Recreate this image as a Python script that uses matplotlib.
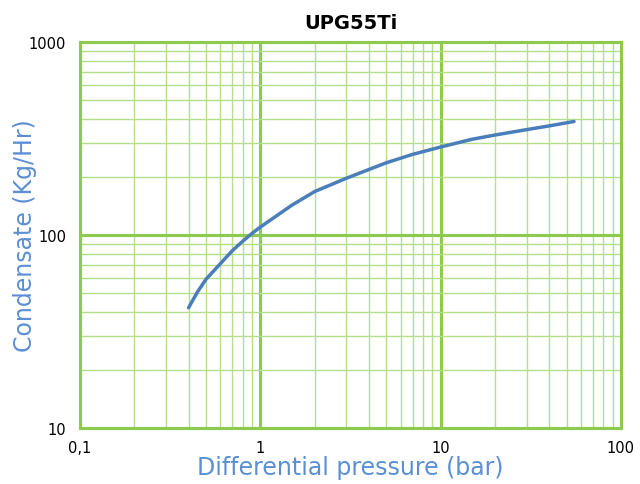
import matplotlib
matplotlib.use('Agg')
import matplotlib.pyplot as plt
from matplotlib.ticker import FixedLocator, FixedFormatter, LogLocator, NullFormatter

# data
pressure = [0.4, 0.45, 0.5, 0.6, 0.7, 0.8, 0.9, 1.0, 1.5, 2, 3, 5, 7, 10, 15, 20, 30, 40, 55]
condensate = [42, 51, 59, 71, 83, 93, 102, 110, 143, 168, 197, 237, 262, 286, 314, 330, 352, 368, 388]
x_ticks = [0.1, 1, 10, 100]
x_labels = ['0,1', '1', '10', '100']
y_ticks = [10, 100, 1000]
y_labels = ['10', '100', '1000']

fig = plt.figure(figsize=(6.4, 4.85), dpi=100)
ax = fig.add_axes([0.125, 0.1155, 0.845, 0.7955])

ax.set_xscale('log')
ax.set_yscale('log')
ax.set_xlim(0.1, 100)
ax.set_ylim(10, 1000)

ax.plot(pressure, condensate, color='#4A7EBB', linewidth=2.5, solid_capstyle='round', zorder=5)

ax.xaxis.set_major_locator(FixedLocator(x_ticks))
ax.xaxis.set_major_formatter(FixedFormatter(x_labels))
ax.yaxis.set_major_locator(FixedLocator(y_ticks))
ax.yaxis.set_major_formatter(FixedFormatter(y_labels))
ax.xaxis.set_minor_locator(LogLocator(base=10, subs=range(2, 10)))
ax.yaxis.set_minor_locator(LogLocator(base=10, subs=range(2, 10)))
ax.xaxis.set_minor_formatter(NullFormatter())
ax.yaxis.set_minor_formatter(NullFormatter())

ax.grid(which='major', color='#8CCB4E', linewidth=2.2)
ax.grid(which='minor', color='#B5DE8C', linewidth=1.0)
ax.set_axisbelow(True)
for s in ax.spines.values():
    s.set_color('#8CCB4E')
    s.set_linewidth(2.2)
ax.tick_params(which='both', length=0, labelsize=10.5)
ax.tick_params(axis='x', pad=9)
ax.tick_params(axis='y', pad=10)

ax.set_title('UPG55Ti', fontsize=14, fontweight='bold', pad=10)
ax.set_xlabel('Differential pressure (bar)', fontsize=17, color='#5B8FD4', va='center')
ax.set_ylabel('Condensate (Kg/Hr)', fontsize=17, color='#5B8FD4', va='center')
ax.xaxis.set_label_coords(0.5, -0.1)
ax.yaxis.set_label_coords(-0.102, 0.5)

fig.savefig('out.png', dpi=100)
